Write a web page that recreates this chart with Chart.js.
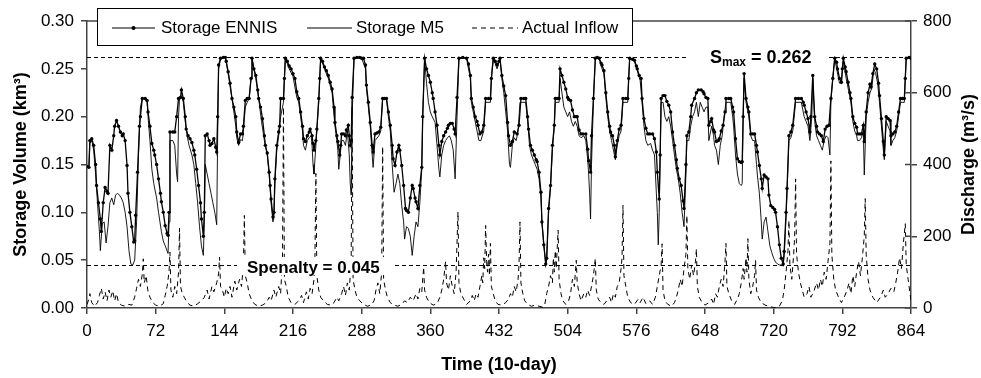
<!DOCTYPE html>
<html>
<head>
<meta charset="utf-8">
<script src="https://cdn.jsdelivr.net/npm/chart.js@4.4.0/dist/chart.umd.min.js"></script>
<style>
  html, body { margin: 0; padding: 0; background: #fff; }
  #wrap { width: 981px; height: 378px; }
</style>
</head>
<body>
<div id="wrap"><canvas id="c" width="981" height="378"></canvas></div>
<script>
// time step (10-day) and storage volume (km3)
const ennis = [[0,0.148],[2,0.147],[3,0.175],[5,0.177],[7,0.17],[9,0.15],[10,0.128],[12,0.11],[14,0.093],[15,0.08],[17,0.11],[19,0.126],[21,0.122],[22,0.12],[24,0.17],[26,0.165],[28,0.18],[29,0.19],[31,0.196],[33,0.19],[35,0.184],[37,0.18],[38,0.182],[40,0.175],[42,0.149],[43,0.12],[45,0.1],[47,0.085],[49,0.069],[50,0.07],[51,0.097],[53,0.142],[55,0.19],[56,0.2],[58,0.219],[61,0.219],[63,0.217],[64,0.205],[66,0.19],[68,0.172],[70,0.165],[71,0.16],[73,0.15],[75,0.135],[77,0.12],[78,0.111],[80,0.1],[82,0.086],[84,0.078],[85,0.076],[86,0.1],[87,0.184],[90,0.184],[92,0.184],[94,0.2],[96,0.219],[98,0.22],[99,0.228],[101,0.219],[103,0.2],[104,0.187],[106,0.18],[108,0.177],[110,0.173],[112,0.165],[113,0.16],[115,0.145],[117,0.128],[119,0.11],[120,0.093],[122,0.075],[123,0.1],[124,0.18],[126,0.182],[128,0.175],[129,0.17],[131,0.172],[133,0.177],[135,0.168],[136,0.163],[137,0.2],[138,0.254],[140,0.261],[143,0.262],[145,0.262],[146,0.258],[148,0.247],[150,0.235],[152,0.219],[154,0.21],[156,0.2],[157,0.184],[159,0.173],[161,0.182],[163,0.182],[164,0.19],[166,0.217],[168,0.219],[170,0.219],[172,0.24],[173,0.261],[175,0.25],[177,0.243],[179,0.228],[180,0.219],[182,0.21],[184,0.198],[186,0.18],[187,0.17],[189,0.162],[191,0.142],[192,0.128],[193,0.114],[195,0.095],[196,0.1],[197,0.135],[199,0.17],[201,0.184],[202,0.19],[203,0.219],[206,0.219],[207,0.24],[208,0.261],[210,0.258],[212,0.253],[214,0.25],[216,0.245],[218,0.24],[220,0.226],[222,0.219],[224,0.205],[226,0.19],[227,0.177],[229,0.174],[231,0.18],[233,0.184],[234,0.187],[236,0.18],[237,0.172],[238,0.165],[240,0.175],[241,0.187],[243,0.219],[244,0.24],[245,0.261],[247,0.258],[249,0.252],[251,0.248],[253,0.243],[255,0.236],[257,0.229],[259,0.21],[260,0.194],[262,0.18],[263,0.174],[265,0.16],[266,0.17],[267,0.182],[269,0.182],[271,0.18],[272,0.186],[274,0.191],[275,0.18],[276,0.17],[277,0.175],[278,0.22],[280,0.261],[283,0.262],[286,0.262],[288,0.261],[290,0.261],[292,0.254],[293,0.233],[295,0.215],[297,0.194],[299,0.17],[300,0.163],[302,0.182],[304,0.183],[306,0.184],[308,0.189],[310,0.219],[312,0.219],[314,0.219],[316,0.205],[318,0.191],[320,0.17],[321,0.156],[323,0.149],[325,0.163],[327,0.17],[328,0.165],[330,0.149],[332,0.128],[334,0.104],[335,0.102],[337,0.1],[339,0.115],[341,0.128],[342,0.125],[344,0.115],[345,0.111],[347,0.104],[349,0.128],[351,0.147],[352,0.2],[354,0.261],[356,0.25],[358,0.243],[360,0.236],[362,0.225],[363,0.219],[365,0.205],[367,0.191],[369,0.17],[370,0.16],[372,0.174],[374,0.18],[376,0.184],[378,0.188],[379,0.191],[381,0.193],[383,0.193],[385,0.187],[386,0.182],[388,0.22],[390,0.261],[394,0.262],[398,0.261],[400,0.255],[402,0.243],[403,0.219],[405,0.21],[407,0.2],[409,0.195],[410,0.191],[412,0.182],[414,0.184],[416,0.191],[418,0.219],[421,0.219],[423,0.219],[424,0.24],[426,0.261],[428,0.258],[430,0.254],[432,0.258],[433,0.261],[435,0.243],[437,0.232],[439,0.222],[441,0.194],[442,0.18],[444,0.17],[446,0.174],[448,0.184],[451,0.182],[453,0.191],[455,0.219],[458,0.219],[460,0.219],[462,0.2],[463,0.187],[465,0.17],[467,0.165],[469,0.16],[471,0.155],[472,0.153],[474,0.142],[476,0.121],[477,0.09],[479,0.066],[481,0.046],[482,0.052],[484,0.104],[486,0.128],[488,0.17],[490,0.191],[491,0.219],[493,0.219],[495,0.219],[496,0.25],[498,0.243],[500,0.236],[502,0.229],[504,0.22],[505,0.218],[507,0.217],[509,0.207],[511,0.2],[513,0.2],[514,0.2],[516,0.186],[518,0.182],[520,0.182],[523,0.182],[525,0.166],[526,0.154],[528,0.142],[529,0.18],[531,0.219],[533,0.261],[535,0.262],[537,0.261],[539,0.256],[540,0.254],[542,0.248],[544,0.225],[546,0.205],[548,0.19],[549,0.184],[551,0.18],[553,0.17],[554,0.158],[556,0.175],[558,0.187],[560,0.191],[562,0.219],[565,0.219],[567,0.219],[568,0.24],[569,0.261],[572,0.26],[574,0.259],[576,0.253],[577,0.25],[579,0.243],[581,0.24],[582,0.219],[584,0.198],[586,0.188],[588,0.182],[590,0.182],[593,0.182],[595,0.177],[597,0.163],[598,0.142],[600,0.114],[601,0.16],[602,0.219],[604,0.222],[606,0.222],[608,0.216],[610,0.212],[612,0.205],[614,0.184],[616,0.17],[618,0.155],[619,0.146],[621,0.135],[623,0.128],[625,0.112],[626,0.104],[628,0.15],[629,0.18],[631,0.184],[633,0.2],[634,0.212],[637,0.219],[639,0.225],[641,0.228],[644,0.228],[646,0.226],[647,0.224],[649,0.22],[651,0.219],[652,0.191],[654,0.195],[655,0.198],[657,0.186],[658,0.184],[660,0.174],[662,0.175],[663,0.177],[665,0.185],[667,0.191],[669,0.205],[670,0.219],[673,0.219],[675,0.219],[677,0.21],[678,0.205],[680,0.177],[682,0.156],[684,0.153],[686,0.152],[687,0.153],[688,0.2],[689,0.245],[691,0.219],[693,0.21],[694,0.205],[696,0.182],[698,0.182],[700,0.182],[702,0.17],[703,0.163],[705,0.149],[707,0.135],[708,0.125],[710,0.139],[712,0.137],[714,0.135],[715,0.118],[717,0.107],[719,0.105],[721,0.103],[722,0.1],[724,0.085],[726,0.066],[728,0.052],[730,0.046],[731,0.059],[733,0.1],[734,0.125],[736,0.18],[738,0.184],[740,0.191],[743,0.219],[746,0.219],[749,0.219],[751,0.215],[752,0.212],[754,0.205],[756,0.198],[758,0.184],[759,0.2],[761,0.243],[763,0.2],[765,0.19],[766,0.184],[768,0.182],[770,0.18],[772,0.174],[774,0.187],[776,0.19],[778,0.191],[780,0.219],[782,0.24],[784,0.261],[786,0.257],[787,0.25],[789,0.24],[791,0.236],[792,0.25],[793,0.261],[795,0.252],[796,0.247],[798,0.236],[800,0.225],[801,0.219],[803,0.2],[805,0.193],[807,0.189],[808,0.182],[810,0.182],[812,0.182],[814,0.191],[815,0.174],[817,0.205],[819,0.225],[821,0.234],[822,0.231],[824,0.245],[826,0.255],[828,0.25],[830,0.235],[831,0.222],[833,0.198],[835,0.174],[836,0.16],[838,0.2],[840,0.198],[842,0.196],[843,0.18],[845,0.182],[847,0.184],[849,0.19],[851,0.205],[853,0.219],[855,0.219],[857,0.219],[858,0.24],[859,0.261],[862,0.262],[864,0.261]];

const m5 = [[0,0.148],[2,0.147],[3,0.172],[5,0.175],[7,0.165],[9,0.14],[11,0.11],[13,0.08],[14,0.06],[16,0.088],[18,0.09],[20,0.068],[22,0.085],[24,0.11],[26,0.115],[28,0.108],[30,0.118],[32,0.12],[34,0.118],[36,0.115],[38,0.11],[40,0.1],[42,0.085],[44,0.06],[46,0.046],[48,0.045],[50,0.05],[52,0.09],[54,0.16],[56,0.21],[58,0.219],[61,0.219],[63,0.215],[64,0.2],[66,0.175],[68,0.145],[70,0.13],[73,0.115],[75,0.1],[78,0.08],[80,0.07],[82,0.065],[85,0.057],[86,0.09],[87,0.175],[90,0.175],[92,0.17],[94,0.14],[95,0.132],[96,0.2],[97,0.219],[99,0.222],[101,0.215],[103,0.195],[105,0.18],[107,0.17],[110,0.16],[112,0.15],[114,0.13],[116,0.11],[118,0.085],[120,0.065],[122,0.055],[123,0.09],[124,0.15],[126,0.14],[128,0.13],[130,0.12],[132,0.11],[134,0.1],[136,0.087],[137,0.18],[138,0.25],[140,0.26],[145,0.262],[148,0.245],[150,0.232],[152,0.219],[154,0.205],[156,0.19],[157,0.178],[159,0.17],[161,0.176],[163,0.175],[164,0.185],[166,0.21],[168,0.215],[170,0.219],[172,0.24],[173,0.261],[175,0.25],[177,0.24],[180,0.219],[183,0.195],[186,0.175],[189,0.16],[191,0.14],[193,0.11],[195,0.09],[196,0.095],[197,0.13],[199,0.165],[201,0.18],[203,0.2],[205,0.21],[206,0.215],[207,0.24],[208,0.261],[212,0.25],[216,0.242],[220,0.22],[222,0.215],[224,0.2],[226,0.185],[227,0.17],[229,0.165],[231,0.175],[233,0.178],[235,0.18],[236,0.17],[237,0.15],[238,0.14],[240,0.17],[241,0.185],[243,0.215],[245,0.261],[249,0.25],[253,0.24],[257,0.225],[260,0.19],[262,0.175],[263,0.165],[264,0.145],[266,0.165],[267,0.175],[269,0.175],[271,0.17],[273,0.185],[275,0.16],[276,0.13],[277,0.118],[278,0.2],[280,0.261],[288,0.261],[292,0.25],[293,0.23],[297,0.19],[299,0.16],[300,0.147],[302,0.175],[306,0.18],[308,0.185],[310,0.219],[314,0.219],[316,0.2],[318,0.185],[320,0.15],[322,0.121],[324,0.13],[326,0.14],[328,0.13],[330,0.107],[332,0.09],[333,0.072],[335,0.085],[337,0.083],[339,0.075],[341,0.055],[343,0.075],[345,0.09],[347,0.085],[349,0.11],[351,0.145],[352,0.2],[354,0.261],[356,0.235],[358,0.215],[360,0.205],[362,0.2],[365,0.194],[367,0.17],[369,0.145],[370,0.137],[372,0.16],[374,0.17],[376,0.175],[378,0.178],[380,0.18],[382,0.175],[384,0.165],[386,0.135],[388,0.2],[390,0.261],[398,0.261],[400,0.25],[402,0.24],[403,0.215],[405,0.205],[407,0.195],[409,0.185],[411,0.175],[413,0.175],[416,0.185],[418,0.215],[423,0.215],[424,0.24],[426,0.261],[430,0.25],[433,0.261],[435,0.24],[437,0.225],[439,0.205],[441,0.185],[443,0.15],[444,0.147],[446,0.17],[448,0.178],[450,0.175],[452,0.185],[454,0.215],[460,0.215],[462,0.195],[464,0.17],[466,0.16],[468,0.155],[470,0.15],[472,0.145],[474,0.135],[476,0.115],[477,0.09],[479,0.066],[481,0.046],[482,0.05],[484,0.1],[486,0.125],[488,0.165],[490,0.19],[491,0.215],[495,0.215],[496,0.24],[498,0.225],[500,0.21],[502,0.205],[504,0.2],[506,0.205],[508,0.195],[510,0.19],[512,0.195],[514,0.19],[516,0.18],[518,0.178],[521,0.18],[523,0.175],[525,0.155],[526,0.14],[527,0.12],[528,0.093],[529,0.15],[531,0.215],[533,0.261],[537,0.261],[540,0.25],[542,0.245],[544,0.22],[546,0.2],[548,0.185],[550,0.175],[552,0.165],[554,0.155],[556,0.17],[558,0.18],[560,0.185],[562,0.215],[567,0.215],[568,0.24],[569,0.261],[574,0.258],[577,0.248],[580,0.238],[582,0.215],[584,0.19],[586,0.175],[588,0.17],[591,0.172],[593,0.165],[595,0.16],[597,0.12],[598,0.1],[599,0.066],[600,0.1],[601,0.16],[602,0.215],[604,0.215],[606,0.2],[608,0.195],[610,0.2],[612,0.19],[614,0.175],[616,0.16],[618,0.145],[620,0.135],[622,0.12],[624,0.1],[626,0.085],[628,0.14],[629,0.175],[631,0.175],[633,0.19],[635,0.2],[637,0.205],[639,0.215],[641,0.2],[643,0.215],[645,0.21],[647,0.205],[649,0.21],[651,0.21],[652,0.175],[654,0.185],[655,0.19],[657,0.18],[658,0.17],[660,0.165],[662,0.15],[664,0.17],[666,0.18],[668,0.2],[670,0.215],[675,0.215],[677,0.2],[678,0.19],[680,0.16],[682,0.14],[684,0.13],[686,0.128],[687,0.13],[688,0.2],[689,0.24],[691,0.215],[693,0.205],[694,0.2],[696,0.18],[698,0.175],[700,0.175],[702,0.15],[703,0.138],[705,0.12],[707,0.09],[708,0.072],[710,0.09],[712,0.095],[714,0.08],[716,0.065],[718,0.058],[720,0.052],[722,0.048],[724,0.046],[726,0.045],[728,0.045],[730,0.046],[731,0.055],[733,0.095],[734,0.12],[736,0.175],[738,0.178],[740,0.185],[743,0.215],[749,0.215],[751,0.205],[752,0.2],[754,0.195],[756,0.19],[758,0.175],[760,0.2],[761,0.24],[763,0.195],[765,0.18],[767,0.175],[769,0.17],[771,0.165],[773,0.175],[775,0.18],[777,0.178],[779,0.16],[780,0.215],[782,0.24],[784,0.261],[786,0.25],[789,0.235],[791,0.235],[793,0.258],[796,0.24],[798,0.23],[800,0.22],[801,0.215],[803,0.195],[805,0.185],[807,0.18],[808,0.175],[810,0.175],[812,0.178],[814,0.185],[815,0.139],[817,0.2],[819,0.215],[821,0.225],[823,0.23],[825,0.25],[827,0.245],[829,0.235],[831,0.215],[833,0.19],[835,0.165],[836,0.155],[838,0.195],[840,0.19],[842,0.185],[843,0.17],[845,0.175],[847,0.178],[849,0.185],[851,0.2],[853,0.215],[857,0.215],[858,0.24],[859,0.261],[864,0.261]];

// time step and actual inflow (m3/s)
const inflow = [[0,10],[2,25],[3,40],[5,15],[8,5],[11,15],[13,35],[15,55],[17,25],[19,45],[21,20],[23,50],[25,30],[27,48],[29,20],[31,40],[33,15],[36,8],[40,5],[44,10],[47,8],[50,30],[52,55],[54,80],[56,60],[58,95],[59,137],[60,70],[62,90],[64,45],[66,30],[69,15],[72,8],[76,5],[80,12],[82,35],[84,60],[86,100],[87,156],[88,50],[90,30],[92,60],[94,40],[96,100],[97,222],[98,60],[100,40],[102,30],[105,15],[108,8],[112,5],[116,12],[120,20],[123,30],[126,50],[128,25],[131,60],[133,45],[136,70],[138,95],[139,142],[140,60],[142,50],[144,30],[146,55],[148,40],[150,60],[152,30],[155,75],[157,50],[160,80],[162,60],[164,120],[165,258],[166,90],[168,70],[170,40],[173,20],[176,10],[180,5],[184,8],[188,15],[191,30],[193,20],[196,50],[198,30],[201,60],[203,40],[205,140],[206,560],[207,80],[209,60],[211,30],[214,15],[218,10],[222,20],[225,35],[227,15],[230,45],[232,25],[234,55],[236,40],[238,80],[239,140],[240,375],[241,90],[243,50],[245,30],[248,20],[252,10],[256,8],[259,15],[262,30],[264,20],[267,40],[269,60],[271,35],[273,70],[275,50],[277,130],[278,560],[279,80],[281,50],[283,30],[286,20],[290,10],[294,5],[298,8],[301,20],[303,50],[305,70],[307,40],[309,100],[310,450],[311,80],[313,50],[315,30],[318,15],[322,8],[326,5],[330,10],[333,20],[336,15],[339,30],[342,20],[345,40],[347,25],[349,55],[351,45],[353,114],[354,50],[356,30],[359,15],[363,8],[367,12],[370,30],[372,50],[374,80],[376,130],[377,70],[379,50],[381,90],[383,60],[385,40],[387,100],[389,268],[390,70],[392,40],[395,25],[398,10],[402,20],[404,35],[406,20],[408,40],[410,30],[412,60],[414,90],[415,70],[416,140],[417,110],[418,230],[419,130],[420,100],[421,150],[422,90],[423,180],[424,60],[426,40],[428,20],[431,10],[435,8],[439,15],[442,25],[444,40],[446,30],[448,60],[450,45],[452,80],[453,120],[454,240],[455,70],[457,40],[459,20],[462,10],[466,5],[470,8],[474,5],[478,2],[480,10],[482,40],[484,60],[486,90],[488,70],[489,140],[490,100],[491,160],[492,110],[494,217],[495,80],[497,40],[499,20],[502,10],[505,20],[507,40],[509,80],[511,60],[513,133],[514,70],[516,40],[518,20],[521,40],[523,30],[525,50],[527,35],[529,60],[531,90],[533,138],[534,50],[536,25],[539,15],[542,10],[545,20],[548,30],[550,15],[552,40],[554,30],[556,60],[558,70],[560,110],[561,140],[562,286],[563,90],[565,60],[567,30],[570,15],[574,10],[578,25],[580,15],[583,30],[586,12],[590,20],[593,10],[596,30],[598,60],[600,90],[602,120],[603,179],[604,50],[606,20],[609,10],[613,5],[616,15],[618,30],[620,50],[622,80],[624,60],[626,110],[628,150],[629,258],[630,110],[632,80],[634,120],[636,90],[638,130],[639,165],[640,60],[642,30],[645,15],[648,8],[652,15],[655,25],[657,10],[659,40],[661,30],[663,60],[665,80],[667,60],[669,130],[670,180],[671,60],[673,40],[676,20],[679,10],[682,25],[684,40],[686,70],[688,110],[689,80],[691,140],[692,100],[693,193],[694,80],[696,40],[698,60],[700,90],[701,133],[702,50],[704,30],[707,15],[711,8],[715,5],[719,2],[723,0],[726,5],[729,20],[731,50],[733,100],[735,160],[736,244],[737,120],[739,80],[741,150],[742,200],[743,360],[744,150],[746,100],[748,70],[750,50],[752,30],[755,40],[757,60],[759,30],[762,45],[765,70],[767,50],[769,80],[771,60],[773,100],[775,80],[777,130],[779,180],[780,410],[781,150],[783,80],[785,50],[788,30],[791,15],[794,30],[797,50],[799,70],[801,40],[803,90],[805,60],[807,100],[809,130],[811,90],[813,140],[815,200],[816,305],[817,150],[819,80],[821,50],[824,30],[828,15],[832,30],[835,50],[837,30],[840,40],[843,55],[846,45],[848,70],[850,100],[852,140],[854,110],[856,180],[858,235],[859,120],[861,80],[863,40],[864,20]];

const sMax = 0.262;
const sPenalty = 0.045;
const seriesNames = ['Storage ENNIS', 'Storage M5', 'Actual Inflow'];
const rightTitle = 'Discharge (m³/s)';

const xy = arr => arr.map(p => ({x: p[0], y: p[1]}));
const AX = '#444';
const FONT = "'Liberation Sans', Arial, Helvetica, sans-serif";

Chart.defaults.font.family = FONT;
Chart.defaults.color = '#000';

// reference lines, their labels, box legend, right title and inner ticks
const extras = {
  id: 'extras',
  beforeDatasetsDraw(chart) {
    const {ctx, chartArea: a, scales: {y}} = chart;
    ctx.save();
    ctx.strokeStyle = '#000';
    ctx.lineWidth = 1;
    ctx.setLineDash([4, 3]);
    [sMax, sPenalty].forEach(v => {
      const py = Math.round(y.getPixelForValue(v)) + 0.5;
      ctx.beginPath(); ctx.moveTo(a.left, py); ctx.lineTo(a.right, py); ctx.stroke();
    });
    ctx.restore();
  },
  afterDatasetsDraw(chart) {
    const {ctx, chartArea: a, scales: {y, y2}} = chart;
    ctx.save();
    // S max label
    let py = y.getPixelForValue(sMax);
    ctx.fillStyle = '#fff';
    ctx.fillRect(687, py - 10, 142, 20);
    ctx.fillStyle = '#000';
    ctx.textBaseline = 'alphabetic';
    ctx.font = 'bold 18px ' + FONT;
    let x = 710;
    ctx.fillText('S', x, py + 6);
    x += ctx.measureText('S').width;
    ctx.font = 'bold 12px ' + FONT;
    ctx.fillText('max', x, py + 9);
    x += ctx.measureText('max').width;
    ctx.font = 'bold 18px ' + FONT;
    ctx.fillText(' = ' + sMax.toFixed(3), x, py + 6);
    // S penalty label
    py = y.getPixelForValue(sPenalty);
    ctx.fillStyle = '#fff';
    ctx.fillRect(237, py - 8, 156, 18);
    ctx.fillStyle = '#000';
    ctx.font = 'bold 17px ' + FONT;
    ctx.fillText('Spenalty = ' + sPenalty.toFixed(3), 247, py + 8);
    // top frame line
    ctx.strokeStyle = AX;
    ctx.lineWidth = 1.5;
    ctx.beginPath(); ctx.moveTo(a.left, a.top); ctx.lineTo(a.right, a.top); ctx.stroke();
    // inner part of right axis ticks
    y2.ticks.forEach(t => {
      const ty = y2.getPixelForValue(t.value);
      ctx.beginPath(); ctx.moveTo(a.right - 6, ty); ctx.lineTo(a.right, ty); ctx.stroke();
    });
    // right axis title, reading upwards
    ctx.save();
    ctx.translate(969, (a.top + a.bottom) / 2);
    ctx.rotate(-Math.PI / 2);
    ctx.font = 'bold 18px ' + FONT;
    ctx.fillStyle = '#000';
    ctx.textAlign = 'center';
    ctx.textBaseline = 'middle';
    ctx.fillText(rightTitle, 0, 0);
    ctx.restore();
    // legend box
    ctx.fillStyle = '#fff';
    ctx.fillRect(97, 8, 535, 37);
    ctx.strokeStyle = '#000';
    ctx.lineWidth = 1;
    ctx.strokeRect(97.5, 8.5, 535, 37);
    const ly = 28;
    const items = [
      {x0: 112, x1: 155, tx: 161, dash: [], w: 1.2, dot: true},
      {x0: 307, x1: 352, tx: 356, dash: [], w: 1, dot: false},
      {x0: 472, x1: 518, tx: 522, dash: [5, 4], w: 1, dot: false}
    ];
    items.forEach((it, i) => {
      ctx.setLineDash(it.dash);
      ctx.lineWidth = it.w;
      ctx.beginPath(); ctx.moveTo(it.x0, ly); ctx.lineTo(it.x1, ly); ctx.stroke();
      ctx.setLineDash([]);
      if (it.dot) {
        ctx.fillStyle = '#000';
        ctx.beginPath(); ctx.arc((it.x0 + it.x1) / 2, ly, 2, 0, Math.PI * 2); ctx.fill();
      }
      ctx.fillStyle = '#000';
      ctx.font = '17px ' + FONT;
      ctx.textBaseline = 'middle';
      ctx.textAlign = 'left';
      ctx.fillText(seriesNames[i], it.tx, ly);
    });
    ctx.restore();
  }
};

new Chart(document.getElementById('c'), {
  type: 'line',
  data: {
    datasets: [{
      label: seriesNames[2],
      data: xy(inflow),
      yAxisID: 'y2',
      borderColor: '#000',
      borderWidth: 1,
      borderDash: [5, 4],
      pointRadius: 0,
      tension: 0
    }, {
      label: seriesNames[1],
      data: xy(m5),
      yAxisID: 'y',
      borderColor: '#000',
      borderWidth: 0.9,
      pointRadius: 0,
      tension: 0
    }, {
      label: seriesNames[0],
      data: xy(ennis),
      yAxisID: 'y',
      borderColor: '#000',
      borderWidth: 1.3,
      pointRadius: 1.7,
      pointBorderWidth: 0,
      pointBackgroundColor: '#000',
      tension: 0
    }]
  },
  options: {
    responsive: false,
    animation: false,
    layout: {padding: {top: 21, left: 0, right: 0, bottom: 0}},
    plugins: {legend: {display: false}, tooltip: {enabled: false}},
    scales: {
      x: {
        type: 'linear',
        min: 0, max: 864,
        afterFit(s) { s.height = 70; },
        ticks: {stepSize: 72, padding: 7, font: {size: 17}, maxRotation: 0},
        grid: {drawOnChartArea: false, tickLength: 6, color: AX, lineWidth: 1.5},
        border: {color: AX, width: 1.5},
        title: {display: true, text: 'Time (10-day)', font: {size: 18, weight: 'bold'}, padding: {top: 0, bottom: 2}}
      },
      y: {
        position: 'left',
        min: 0, max: 0.3,
        afterFit(s) { s.width = 87; },
        ticks: {stepSize: 0.05, padding: 7, font: {size: 17}, callback: v => v.toFixed(2)},
        grid: {drawOnChartArea: false, tickLength: 6, color: AX, lineWidth: 1.5},
        border: {color: AX, width: 1.5},
        title: {display: true, text: 'Storage Volume (km³)', font: {size: 18, weight: 'bold'}, padding: {top: 10, bottom: 0}}
      },
      y2: {
        position: 'right',
        min: 0, max: 800,
        afterFit(s) { s.width = 70; },
        ticks: {stepSize: 200, padding: 6, font: {size: 17}},
        grid: {drawOnChartArea: false, tickLength: 6, color: AX, lineWidth: 1.5},
        border: {color: AX, width: 1.5},
        title: {display: false}
      }
    }
  },
  plugins: [extras]
});
</script>
</body>
</html>
